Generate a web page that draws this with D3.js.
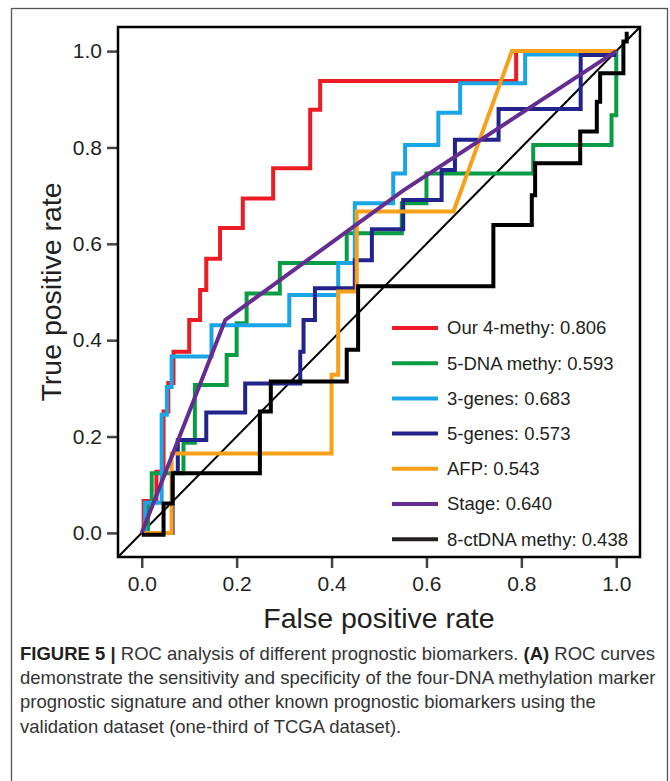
<!DOCTYPE html>
<html>
<head>
<meta charset="utf-8">
<script src="https://cdn.jsdelivr.net/npm/d3@7"></script>
<style>
  body { margin: 0; background: #fff; }
  svg { display: block; font-family: "Liberation Sans", Arial, sans-serif; }
</style>
</head>
<body>
<main></main>
<script>
//ROC curves with D3

//Data: [false positive rate, true positive rate]
const our4Methy = [[0,0],[0.004,0],[0.004,0.066],[0.031,0.066],[0.031,0.127],[0.046,0.127],[0.046,0.252],[0.056,0.252],[0.056,0.311],[0.067,0.311],[0.067,0.376],[0.1,0.376],[0.1,0.442],[0.123,0.442],[0.123,0.504],[0.136,0.504],[0.136,0.569],[0.165,0.569],[0.165,0.633],[0.213,0.633],[0.213,0.694],[0.277,0.694],[0.277,0.757],[0.355,0.757],[0.355,0.878],[0.376,0.878],[0.376,0.938],[0.789,0.938],[0.789,1],[1,1]];
const dna5Methy = [[0,0],[0.013,0],[0.013,0.0625],[0.021,0.0625],[0.021,0.124],[0.088,0.124],[0.088,0.187],[0.112,0.187],[0.112,0.307],[0.179,0.307],[0.179,0.369],[0.2,0.369],[0.2,0.435],[0.221,0.435],[0.221,0.497],[0.291,0.497],[0.291,0.56],[0.432,0.56],[0.432,0.622],[0.548,0.622],[0.548,0.684],[0.6,0.684],[0.6,0.746],[0.825,0.746],[0.825,0.805],[0.99,0.805],[0.99,0.867],[1,0.867],[1,1]];
const genes3 = [[0,0],[0.007,0],[0.007,0.0625],[0.042,0.0625],[0.042,0.245],[0.053,0.245],[0.053,0.303],[0.063,0.303],[0.063,0.366],[0.147,0.366],[0.147,0.431],[0.311,0.431],[0.311,0.494],[0.414,0.494],[0.414,0.56],[0.449,0.56],[0.449,0.684],[0.53,0.684],[0.53,0.746],[0.555,0.746],[0.555,0.805],[0.625,0.805],[0.625,0.872],[0.671,0.872],[0.671,0.933],[0.808,0.933],[0.808,0.993],[1,0.993]];
const genes5 = [[0,0],[0.065,0],[0.065,0.125],[0.076,0.125],[0.076,0.193],[0.136,0.193],[0.136,0.25],[0.218,0.25],[0.218,0.31],[0.334,0.31],[0.334,0.376],[0.341,0.376],[0.341,0.442],[0.365,0.442],[0.365,0.508],[0.449,0.508],[0.449,0.566],[0.485,0.566],[0.485,0.63],[0.551,0.63],[0.551,0.691],[0.632,0.691],[0.632,0.753],[0.66,0.753],[0.66,0.816],[0.752,0.816],[0.752,0.88],[0.925,0.88],[0.925,0.992],[1,0.992]];
const afp = [[0,0],[0.063,0],[0.063,0.165],[0.4,0.165],[0.4,0.328],[0.414,0.328],[0.414,0.501],[0.453,0.501],[0.453,0.667],[0.657,0.667],[0.78,1],[1,1]];
const stage = [[0,0],[0.176,0.442],[0.55,0.71],[1,1]];
const ctDNA8 = [[0,-0.004],[0.046,-0.004],[0.046,0.061],[0.065,0.061],[0.065,0.124],[0.249,0.124],[0.249,0.252],[0.272,0.252],[0.272,0.314],[0.432,0.314],[0.432,0.38],[0.456,0.38],[0.456,0.512],[0.741,0.512],[0.741,0.639],[0.822,0.639],[0.822,0.701],[0.829,0.701],[0.829,0.767],[0.924,0.767],[0.924,0.833],[0.959,0.833],[0.959,0.895],[0.966,0.895],[0.966,0.954],[1.015,0.954],[1.015,1.02],[1.022,1.02],[1.022,1.04]];

const curves = [our4Methy, dna5Methy, genes3, genes5, afp, stage, ctDNA8];
const labels = ["Our 4-methy: 0.806", "5-DNA methy: 0.593", "3-genes: 0.683", "5-genes: 0.573", "AFP: 0.543", "Stage: 0.640", "8-ctDNA methy: 0.438"];
const colors = ["#ec1c24", "#0a9b45", "#1aa5e6", "#23238c", "#f7a11a", "#662d91", "#000000"];
const legendColors = ["#ec1c24", "#0a9b45", "#1aa5e6", "#23238c", "#f7a11a", "#662d91", "#231f20"];
const ticks = [0, 0.2, 0.4, 0.6, 0.8, 1.0];

//Caption lines: [text, bold]
const caption = [
  [["FIGURE 5 |", true], [" ROC analysis of different prognostic biomarkers. ", false], ["(A)", true], [" ROC curves", false]],
  [["demonstrate the sensitivity and specificity of the four-DNA methylation marker", false]],
  [["prognostic signature and other known prognostic biomarkers using the", false]],
  [["validation dataset (one-third of TCGA dataset).", false]]
];

//Parameters
const w = 670;
const h = 781;
const box = {left: 118, right: 640, top: 27, bottom: 557};

const svg = d3.select("main")
  .append("svg")
  .attr("width", w)
  .attr("height", h);

//Outer frame
svg.append("rect")
  .attr("x", 11.5).attr("y", 8.5)
  .attr("width", 656).attr("height", 800)
  .attr("fill", "none")
  .attr("stroke", "#555")
  .attr("stroke-width", 1.3);

//Scales
const x = d3.scaleLinear().domain([-0.05, 1.05]).range([box.left, box.right]);
const y = d3.scaleLinear().domain([-0.05, 1.05]).range([box.bottom, box.top]);

//Axes
const yAxis = svg.append("g")
  .attr("transform", "translate(" + box.left + ",0)")
  .call(d3.axisLeft(y).tickValues(ticks).tickFormat(d3.format(".1f")).tickSize(11).tickPadding(5));
const xAxis = svg.append("g")
  .attr("transform", "translate(0," + box.bottom + ")")
  .call(d3.axisBottom(x).tickValues(ticks).tickFormat(d3.format(".1f")).tickSize(11).tickPadding(8));

[xAxis, yAxis].forEach(a => {
  a.select(".domain").remove();
  a.attr("font-family", null).attr("font-size", null);
  a.selectAll(".tick line").attr("stroke", "#444").attr("stroke-width", 2.5);
  a.selectAll(".tick text").attr("fill", "#231f20").style("font-size", "21px");
});

//Diagonal
svg.append("line")
  .attr("x1", x(-0.05)).attr("y1", y(-0.05))
  .attr("x2", x(1.05)).attr("y2", y(1.05))
  .attr("stroke", "#000")
  .attr("stroke-width", 2);

//Curves
const line = d3.line().x(d => x(d[0])).y(d => y(d[1]));
svg.append("g")
  .selectAll("path")
  .data(curves)
  .enter()
  .append("path")
  .attr("d", line)
  .attr("fill", "none")
  .attr("stroke", (d, i) => colors[i])
  .attr("stroke-width", 4)
  .attr("stroke-linejoin", "miter");

//Plot box
svg.append("rect")
  .attr("x", box.left).attr("y", box.top)
  .attr("width", box.right - box.left).attr("height", box.bottom - box.top)
  .attr("fill", "none")
  .attr("stroke", "#000")
  .attr("stroke-width", 2.5);

//Legend
const legend = svg.append("g")
  .attr("transform", "translate(392,328)");
const rows = legend.selectAll("g")
  .data(labels)
  .enter()
  .append("g")
  .attr("transform", (d, i) => "translate(0," + i * 35.2 + ")");
rows.append("line")
  .attr("x1", 0).attr("x2", 46)
  .attr("stroke", (d, i) => legendColors[i])
  .attr("stroke-width", 4);
rows.append("text")
  .attr("x", 55)
  .attr("dy", "0.35em")
  .style("font-size", "18.5px")
  .attr("fill", "#231f20")
  .text(d => d);

//Axis titles
svg.append("text")
  .attr("x", (box.left + box.right) / 2)
  .attr("y", 628)
  .attr("text-anchor", "middle")
  .style("font-size", "28.5px")
  .attr("fill", "#231f20")
  .text("False positive rate");
svg.append("text")
  .attr("transform", "translate(61," + (box.top + box.bottom) / 2 + ") rotate(-90)")
  .attr("text-anchor", "middle")
  .style("font-size", "28.5px")
  .attr("fill", "#231f20")
  .text("True positive rate");

//Caption
const cap = svg.append("g");
const capText = cap.selectAll("text")
  .data(caption)
  .enter()
  .append("text")
  .attr("x", 0)
  .attr("y", (d, i) => 660 + i * 24.2)
  .style("font-size", "17.5px")
  .attr("fill", "#333");
capText.selectAll("tspan")
  .data(d => d)
  .enter()
  .append("tspan")
  .attr("font-weight", d => d[1] ? "bold" : null)
  .attr("fill", d => d[1] ? "#231f20" : null)
  .text(d => d[0]);

//squeeze the caption to the condensed width of the journal font
const widest = d3.max(capText.nodes(), n => n.getComputedTextLength());
cap.attr("transform", "translate(20,0) scale(" + (636 / widest) + ",1)");
</script>
</body>
</html>
